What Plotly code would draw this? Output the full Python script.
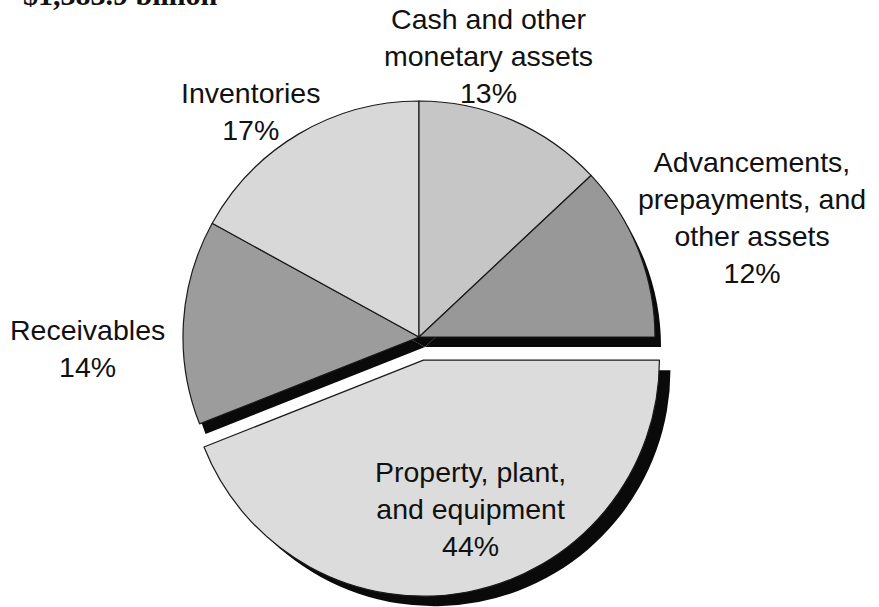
import plotly.graph_objects as go

# Composition of assets (share of total, %)
categories = ["Property, plant, and equipment", "Receivables", "Inventories",
              "Cash and other monetary assets", "Advancements, prepayments, and other assets"]
shares = [44, 14, 17, 13, 12]
label_lines = [
    ["Property, plant,", "and equipment"],
    ["Receivables"],
    ["Inventories"],
    ["Cash and other", "monetary assets"],
    ["Advancements,", "prepayments, and", "other assets"],
]
slice_colors = ["#dcdcdc", "#9c9c9c", "#d8d8d8", "#c6c6c6", "#989898"]
pulls = [0.1, 0, 0, 0, 0]
title_text = "$1,383.9 billion"

W, H = 879, 607
CX, CY = 419, 337          # pie centre in pixels (from top-left)
R_OUT = 236 * (1 + max(pulls))  # half-size of the square domain


def domain(cx, cy):
    x0, x1 = cx - R_OUT, cx + R_OUT
    ytop, ybot = cy - R_OUT, cy + R_OUT
    return dict(x=[max(0, x0 / W), min(1, x1 / W)],
                y=[max(0, (H - ybot) / H), min(1, (H - ytop) / H)])


def pie(colors, cx, cy, line_w):
    return go.Pie(
        labels=categories, values=shares, sort=False, direction="clockwise",
        rotation=90, pull=pulls, textinfo="none", hoverinfo="skip",
        marker=dict(colors=colors, line=dict(color="#1a1a1a", width=line_w)),
        domain=domain(cx, cy), showlegend=False,
    )


clear = "rgba(0,0,0,0)"
fig = go.Figure()
# drop shadows: the four upper slices, then the pulled-out slice
fig.add_trace(pie([clear, "#0a0a0a", "#0a0a0a", "#0a0a0a", "#0a0a0a"], CX + 6, CY + 10, 0))
fig.add_trace(pie(["#0a0a0a", clear, clear, clear, clear], CX + 11, CY + 10, 0))
fig.add_trace(pie(slice_colors, CX, CY, 1.2))

# label positions (pixel centre of first line)
label_pos = [(470, 472), (87, 330), (250, 93), (488, 20), (752, 163)]
line_h = 36.5
font = dict(family="Liberation Sans, Arial, sans-serif", size=28.5, color="#111111")
for lines, share, (lx, ly) in zip(label_lines, shares, label_pos):
    text = "<br>".join(lines + [f"{share}%"])
    n = len(lines) + 1
    cy_text = ly + (n - 1) * line_h / 2
    fig.add_annotation(x=lx / W, y=1 - cy_text / H, xref="paper", yref="paper",
                       text=text, showarrow=False, font=font, align="center",
                       xanchor="center", yanchor="middle")

fig.add_annotation(x=22 / W, y=1, xref="paper", yref="paper", text=f"<b>{title_text}</b>",
                   showarrow=False, xanchor="left", yanchor="bottom", yshift=-12,
                   borderpad=0,
                   font=dict(family="Liberation Serif, Times New Roman, serif", size=30,
                             color="#111111"))

fig.update_layout(width=W, height=H, margin=dict(l=0, r=0, t=0, b=0),
                  paper_bgcolor="white", plot_bgcolor="white")
fig.write_html("out.html")
